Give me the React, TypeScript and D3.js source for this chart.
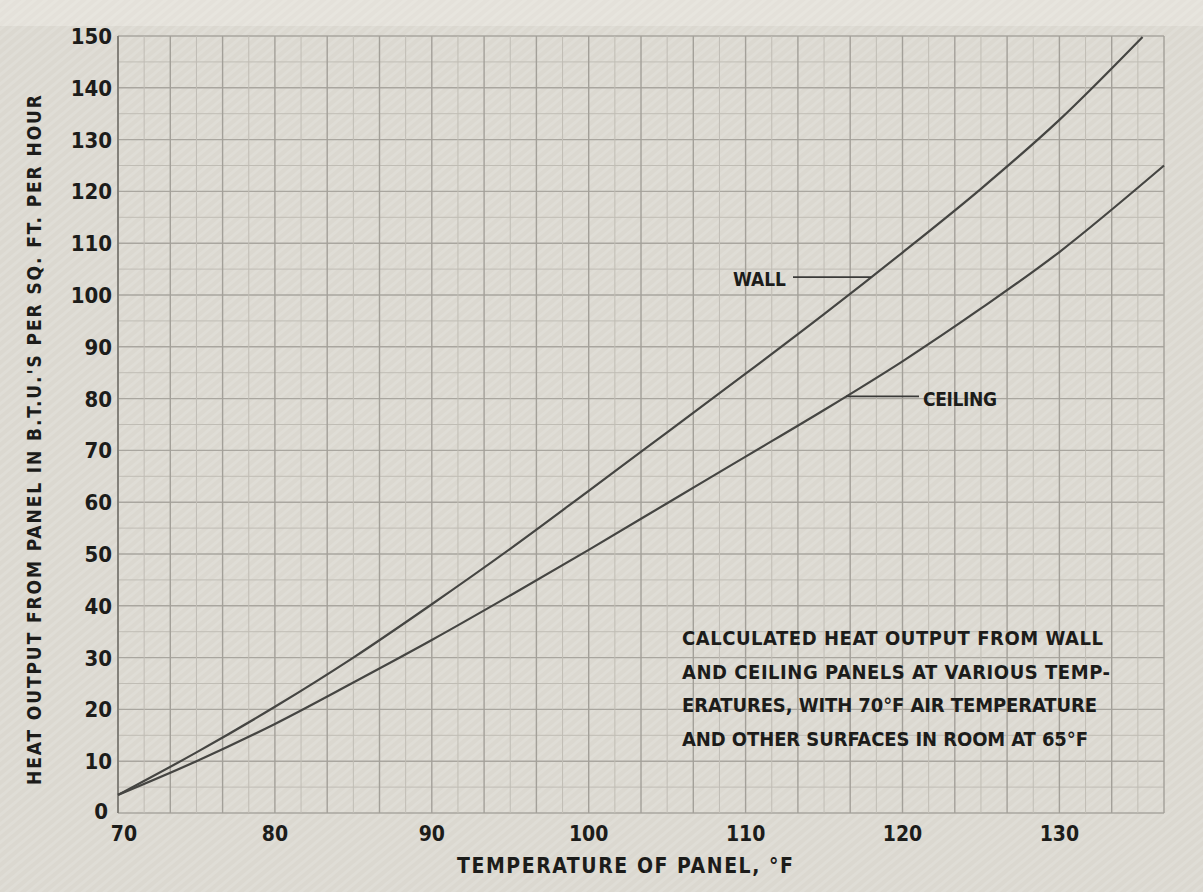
import React from 'react';
import * as d3 from 'd3';

// values
const wallTemps = [70, 75, 80, 85, 90, 95, 100, 105, 110, 115, 120, 125, 130, 135.3];
const wallOutput = [3.5, 11.7, 20.5, 30, 40.3, 51, 62.2, 73.5, 84.8, 96.3, 108.2, 120.5, 133.8, 149.8];
const ceilingTemps = [70, 75, 80, 85, 90, 95, 100, 105, 110, 115, 120, 125, 130, 136.67];
const ceilingOutput = [3.5, 10, 17.2, 25.2, 33.4, 42, 50.8, 59.8, 68.8, 77.8, 87.2, 97.4, 108.3, 125];

const xTicks = [70, 80, 90, 100, 110, 120, 130];
const yTicks = [0, 10, 20, 30, 40, 50, 60, 70, 80, 90, 100, 110, 120, 130, 140, 150];
const note = [
  'CALCULATED HEAT OUTPUT FROM WALL',
  'AND CEILING PANELS AT VARIOUS TEMP-',
  'ERATURES, WITH 70°F AIR TEMPERATURE',
  'AND OTHER SURFACES IN ROOM AT 65°F',
];
const noteWidths = [421, 428, 415, 406];

const W = 1203;
const H = 892;
const left = 118;
const right = 1164;
const top = 36;
const bottom = 813;
const xMax = 70 + 200 / 3;

const font = '"Liberation Sans Narrow", "DejaVu Sans Condensed", sans-serif';
const ink = '#1c1c1a';

const interp = (xs: number[], ys: number[], t: number) => {
  const i = d3.bisectRight(xs, t) - 1;
  const f = (t - xs[i]) / (xs[i + 1] - xs[i]);
  return ys[i] + f * (ys[i + 1] - ys[i]);
};

const App = () => {
  const x = d3.scaleLinear().domain([70, xMax]).range([left, right]);
  const y = d3.scaleLinear().domain([0, 150]).range([bottom, top]);

  const line = d3
    .line<[number, number]>()
    .x((d) => x(d[0]))
    .y((d) => y(d[1]))
    .curve(d3.curveCatmullRom);

  const wallPts = wallTemps.map((t, i) => [t, wallOutput[i]] as [number, number]);
  const ceilPts = ceilingTemps.map((t, i) => [t, ceilingOutput[i]] as [number, number]);

  const xGrid = d3.range(0, 41).map((i) => 70 + (i * 10) / 6);
  const yGrid = d3.range(0, 151, 5);

  const wallAt = 118;
  const ceilAt = 116.4;
  const wallY = y(interp(wallTemps, wallOutput, wallAt));
  const ceilY = y(interp(ceilingTemps, ceilingOutput, ceilAt));

  return (
    <svg width={W} height={H} style={{ position: 'absolute', left: 0, top: 0 }}>
      <defs>
        <pattern id="stripes" width="7" height="7" patternUnits="userSpaceOnUse" patternTransform="rotate(-40)">
          <rect width="7" height="3" fill="#ffffff" opacity="0.12" />
        </pattern>
      </defs>
      <rect width={W} height={H} fill="#dbd8d0" />
      <rect width={W} height={26} fill="#e4e1da" />
      <rect width={W} height={H} fill="url(#stripes)" />

      {/* grid */}
      <g>
        {yGrid.map((v) => (
          <line
            key={'h' + v}
            x1={left}
            x2={right}
            y1={y(v)}
            y2={y(v)}
            stroke={v % 10 === 0 ? '#a9a69f' : '#c0bdb5'}
            strokeWidth={v % 10 === 0 ? 1.4 : 1}
          />
        ))}
        {xGrid.map((t, i) => (
          <line
            key={'v' + i}
            x1={x(t)}
            x2={x(t)}
            y1={top}
            y2={bottom}
            stroke={i % 2 === 0 ? '#a3a099' : '#c0bdb5'}
            strokeWidth={i % 2 === 0 ? 1.4 : 1}
          />
        ))}
        <line x1={left} x2={left} y1={top} y2={bottom} stroke="#77756f" strokeWidth={1.6} />
      </g>

      {/* curves */}
      <path d={line(wallPts) || ''} fill="none" stroke="#454542" strokeWidth={2.2} />
      <path d={line(ceilPts) || ''} fill="none" stroke="#454542" strokeWidth={2.2} />

      {/* labels with leaders */}
      <line x1={793} x2={x(wallAt)} y1={wallY} y2={wallY} stroke="#3a3a38" strokeWidth={1.8} />
      <text x={733} y={wallY + 9} fontFamily={font} fontWeight="bold" fontSize={19} fill={ink} textLength={53}>
        WALL
      </text>
      <line x1={x(ceilAt)} x2={919} y1={ceilY} y2={ceilY} stroke="#3a3a38" strokeWidth={1.8} />
      <text x={923} y={ceilY + 10} fontFamily={font} fontWeight="bold" fontSize={19} fill={ink} textLength={74}>
        CEILING
      </text>

      {/* y axis ticks */}
      {yTicks.map((v) => (
        <text
          key={'yt' + v}
          x={v === 0 ? 108 : 112}
          y={y(v) + (v === 0 ? 6 : 8)}
          textAnchor="end"
          fontFamily={font}
          fontWeight="bold"
          fontSize={22}
          fill={ink}
        >
          {v}
        </text>
      ))}

      {/* x axis ticks */}
      {xTicks.map((t) => (
        <text
          key={'xt' + t}
          x={x(t) + (t === 70 ? 6 : 0)}
          y={841}
          textAnchor="middle"
          fontFamily={font}
          fontWeight="bold"
          fontSize={21}
          fill={ink}
        >
          {t}
        </text>
      ))}

      <text x={457} y={873} fontFamily={font} fontWeight="bold" fontSize={21} fill={ink} textLength={336}>
        TEMPERATURE OF PANEL, °F
      </text>

      <text
        transform={`translate(41, 440) rotate(-90)`}
        textAnchor="middle"
        fontFamily={font}
        fontWeight="bold"
        fontSize={19}
        fill={ink}
        textLength={690}
      >
        HEAT OUTPUT FROM PANEL IN B.T.U.'S PER SQ. FT. PER HOUR
      </text>

      {note.map((s, i) => (
        <text
          key={'n' + i}
          x={682}
          y={645 + i * 33.5}
          fontFamily={font}
          fontWeight="bold"
          fontSize={20}
          fill={ink}
          textLength={noteWidths[i]}
        >
          {s}
        </text>
      ))}
    </svg>
  );
};

export default App;
